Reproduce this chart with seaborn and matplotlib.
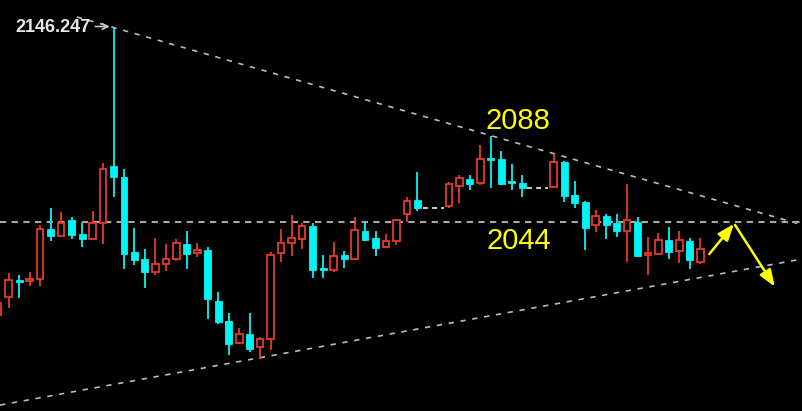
import matplotlib
matplotlib.use("Agg")
import matplotlib.pyplot as plt
import numpy as np
import pandas as pd
import seaborn as sns

# time index (gaps = weekends)
slot = list(range(0, 41)) + list(range(43, 51)) + list(range(53, 68))

open_ = [1995.2, 2004.7, 2013.6, 2013.1, 2014.1, 2040.3, 2036.7, 2045.0, 2037.9, 2035.1,
         2043.5, 2073.4, 2067.8, 2028.4, 2024.6, 2017.8, 2021.8, 2024.6, 2032.5, 2027.6,
         2029.3, 2002.6, 1992.2, 1980.7, 1985.1, 1978.5, 1982.5, 2027.6, 2032.8, 2035.1,
         2041.9, 2019.9, 2018.7, 2026.9, 2024.6, 2039.4, 2035.5, 2031.0, 2033.9, 2048.0,
         2055.3,
         2052.2, 2062.7, 2066.7, 2064.3, 2077.2, 2077.2, 2065.3, 2064.6,
         2062.5, 2075.5, 2058.2, 2054.3, 2042.4, 2047.1, 2043.3, 2039.1, 2043.8, 2026.9,
         2027.2, 2034.7, 2028.6, 2033.9, 2023.0]
high = [2005.2, 2017.3, 2016.2, 2017.8, 2042.6, 2051.3, 2049.2, 2046.6, 2043.5, 2049.8,
        2074.9, 2146.247, 2071.8, 2041.0, 2030.0, 2035.6, 2032.5, 2035.1, 2039.4, 2033.1,
        2030.7, 2007.3, 1996.3, 1988.6, 1996.1, 1983.9, 2028.1, 2040.2, 2047.5, 2043.6,
        2043.5, 2026.9, 2033.4, 2028.8, 2046.5, 2043.8, 2039.4, 2037.9, 2045.4, 2057.0,
        2070.2,
        2064.8, 2068.6, 2068.6, 2084.5, 2089.1, 2081.2, 2074.3, 2068.6,
        2079.5, 2076.1, 2065.5, 2055.2, 2050.5, 2048.4, 2048.2, 2064.1, 2046.8, 2036.3,
        2038.1, 2041.2, 2039.4, 2035.8, 2035.6]
low = [1993.7, 1998.9, 2004.1, 2010.4, 2010.6, 2034.0, 2036.1, 2035.1, 2031.0, 2034.8,
       2032.6, 2057.3, 2019.4, 2021.5, 2009.4, 2016.2, 2018.5, 2023.7, 2019.4, 2025.5,
       1993.1, 1990.5, 1974.3, 1979.9, 1976.0, 1972.0, 1976.9, 2023.2, 2026.3, 2030.0,
       2014.6, 2014.6, 2017.9, 2020.0, 2024.1, 2034.0, 2026.3, 2030.2, 2032.1, 2044.0,
       2049.9,
       2051.5, 2054.0, 2060.8, 2063.2, 2061.7, 2063.4, 2060.8, 2057.3,
       2061.7, 2054.6, 2051.3, 2029.5, 2038.9, 2034.9, 2036.3, 2023.2, 2025.5, 2016.2,
       2026.5, 2024.8, 2022.5, 2019.2, 2022.1]
close = [2001.5, 2013.6, 2012.8, 2014.3, 2040.3, 2036.7, 2043.5, 2037.2, 2035.1, 2043.5,
         2071.8, 2067.6, 2027.2, 2024.1, 2017.8, 2022.0, 2024.6, 2033.0, 2027.2, 2029.3,
         2003.6, 1991.7, 1979.9, 1985.1, 1977.4, 1982.6, 2026.7, 2033.1, 2035.5, 2041.9,
         2018.6, 2018.8, 2026.0, 2024.6, 2039.6, 2034.7, 2030.4, 2033.9, 2044.9, 2055.2,
         2051.5,
         2063.9, 2066.9, 2063.9, 2077.0, 2076.7, 2064.1, 2064.3, 2062.0,
         2075.5, 2057.8, 2054.0, 2040.7, 2047.0, 2042.3, 2039.1, 2044.9, 2026.2, 2027.7,
         2034.6, 2028.4, 2034.6, 2023.9, 2030.0]

# drawn lines (x in slots, y in price)
upper_x, upper_y = [7.5, 76.8], [2151.5, 2042.4]
lower_x, lower_y = [0.17, 76.8], [1948.0, 2024.7]
level = 2044
label_high = "2146.247"

df = pd.DataFrame({"slot": slot, "open": open_, "high": high, "low": low, "close": close})
df["up"] = df["close"] >= df["open"]

sns.set_style("dark", {"axes.facecolor": "black", "figure.facecolor": "black"})
plt.rcParams["font.family"] = ["Liberation Sans", "DejaVu Sans"]

fig = plt.figure(figsize=(8.03, 4.11), dpi=100)
ax = fig.add_axes([0, 0, 1, 1])
ax.set_facecolor("black")

RED = "#e5392d"
CYAN = "#00f5f5"

up = df[df["up"]]
dn = df[~df["up"]]

ax.vlines(up["slot"], up["low"], up["high"], color=RED, lw=1.3, zorder=2)
ax.vlines(dn["slot"], dn["low"], dn["high"], color=CYAN, lw=1.3, zorder=2)

h_up = np.maximum(up["close"] - up["open"], 0.4)
ax.bar(up["slot"], h_up, bottom=up["open"], width=0.62, facecolor="black",
       edgecolor=RED, linewidth=1.3, zorder=3)
h_dn = np.maximum(dn["open"] - dn["close"], 0.6)
ax.bar(dn["slot"], h_dn, bottom=dn["close"], width=0.66, facecolor=CYAN,
       edgecolor=CYAN, linewidth=0.6, zorder=3)

# weekend gap connectors
for a, b in [(40, 43), (50, 53)]:
    c = df.loc[df["slot"] == a, "close"].iloc[0]
    ax.plot([a + 0.5, b - 0.5], [c, c], color="#d0d0d0", lw=1.4,
            linestyle=(0, (2.5, 2.2)), zorder=1)

# trend lines
sns.lineplot(x=upper_x, y=upper_y, ax=ax, color="#bcbcbc", lw=1.2,
             linestyle=(0, (3.2, 4.0)), zorder=1)
sns.lineplot(x=lower_x, y=lower_y, ax=ax, color="#bcbcbc", lw=1.2,
             linestyle=(0, (3.2, 4.0)), zorder=1)
ax.axhline(level, color="#a8a8a8", lw=1.5, linestyle=(0, (3.0, 2.6)), zorder=1)

# high label
ax.text(8.8, 2146.2, label_high, color="#e8e8e8", fontsize=13, fontweight="bold",
        ha="right", va="center")
ax.annotate("", xy=(10.9, 2146.5), xytext=(9.0, 2146.5),
            arrowprops=dict(arrowstyle="->", color="#c8c8c8", lw=1.2))

# level labels
ax.text(49.6, 2097.0, "2088", color="#ffff00", fontsize=21, ha="center", va="center")
ax.text(49.7, 2034.0, "2044", color="#ffff00", fontsize=21, ha="center", va="center")

# forecast arrows
ax.annotate("", xy=(70.2, 2043.0), xytext=(67.85, 2027.2),
            arrowprops=dict(arrowstyle="-|>,head_length=1.0,head_width=0.38",
                            color="#ffff00", lw=1.8, shrinkA=0, shrinkB=0))
ax.annotate("", xy=(74.1, 2010.1), xytext=(70.3, 2042.5),
            arrowprops=dict(arrowstyle="-|>,head_length=1.0,head_width=0.38",
                            color="#ffff00", lw=1.8, shrinkA=0, shrinkB=0))

ax.set_xlim(0.17, 76.79)
ax.set_ylim(1944.9, 2160.4)
ax.set_xticks([])
ax.set_yticks([])
ax.set_xlabel("")
ax.set_ylabel("")
for s in ax.spines.values():
    s.set_visible(False)

fig.savefig("out.png", dpi=100, facecolor="black")
